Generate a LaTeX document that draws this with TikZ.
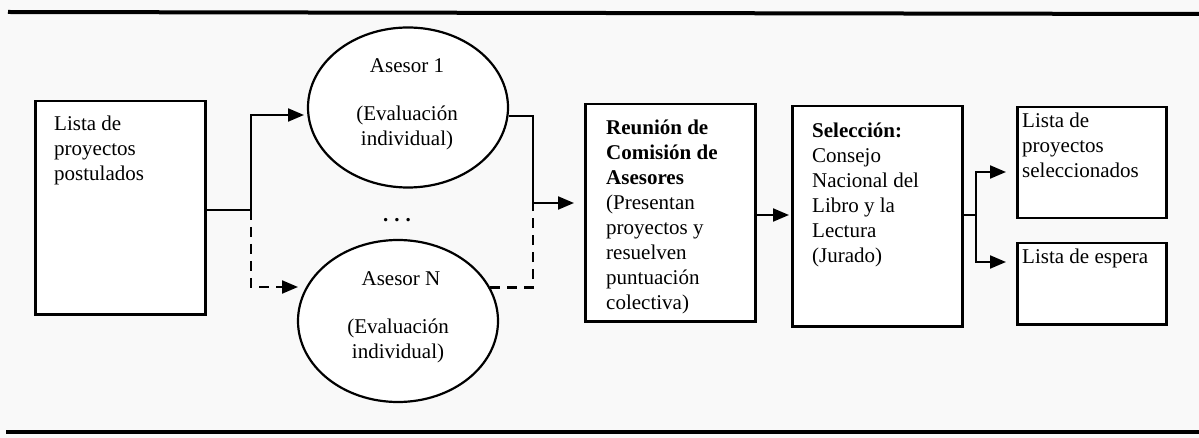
\documentclass[tikz,border=0pt]{standalone}
\usepackage{fontspec}
\setmainfont{Liberation Serif}
\usetikzlibrary{arrows.meta,shapes.geometric}
\newcommand{\fl}{\rule{0pt}{16pt}}
\begin{document}
\begin{tikzpicture}[x=1pt,y=-1pt,
  box/.style={draw, line width=2.5pt, fill=white, inner sep=0pt, anchor=north west},
  ell/.style={draw, ellipse, line width=2.2pt, fill=white, inner sep=0pt},
  txt/.style={inner sep=0pt, font=\fontsize{21}{25}\selectfont},
  lbl/.style={txt, anchor=north west, align=left},
  clbl/.style={txt, anchor=north, align=center},
  conn/.style={line width=2.2pt},
  arr/.style={conn, -{Triangle[length=16pt,width=13pt]}},
  dsh/.style={dash pattern=on 10pt off 7pt}]
% background and frame rules
\fill[gray!5] (0,0) rectangle (1199,438);
\useasboundingbox (0,0) rectangle (1199,438);
\draw[line width=4pt] (8,12) -- (1199,14);
\draw[line width=3.5pt] (6,432) -- (1199,432);

% boxes (text nodes: first baseline = y + 16)
\node[box, minimum width=170pt, minimum height=213pt] (lista) at (34,100) {};
\node[lbl] (listat) at (54,114) {\fl Lista de\\proyectos\\postulados};

\node[ell, minimum width=200pt, minimum height=160pt] (e1) at (408,107.5) {};
\node[clbl] (e1a) at (407,56) {\fl Asesor 1};
\node[clbl] (e1b) at (407,104) {\fl(Evaluación\\individual)};

\node[txt, anchor=base] (dots) at (397,222) {\textbf{.\hspace{6pt}.\hspace{6pt}.}};

\node[ell, minimum width=200pt, minimum height=162pt] (eN) at (398,321) {};
\node[clbl] (eNa) at (401,269) {\fl Asesor N};
\node[clbl] (eNb) at (398,317) {\fl(Evaluación\\individual)};

\node[box, minimum width=170pt, minimum height=217pt] (reu) at (584,103) {};
\node[lbl] (reut) at (606,118) {\fl\textbf{Reunión de}\\\textbf{Comisión de}\\\textbf{Asesores}\\(Presentan\\proyectos y\\resuelven\\puntuación\\colectiva)};

\node[box, minimum width=170pt, minimum height=220pt] (sel) at (791,105) {};
\node[lbl] (selt) at (812,121) {\fl\textbf{Selección:}\\Consejo\\Nacional del\\Libro y la\\Lectura\\(Jurado)};

\node[box, minimum width=149pt, minimum height=111pt] (lsel) at (1016,106) {};
\node[lbl] (lselt) at (1022,111) {\fl Lista de\\proyectos\\seleccionados};

\node[box, minimum width=149pt, minimum height=81pt] (lesp) at (1016,242) {};
\node[lbl] (lespt) at (1022,247) {\fl Lista de espera};

% connectors, left fork
\coordinate (j1) at (251,210);
\coordinate (t1) at (304,115);
\coordinate (tN) at (298,287);
\draw[conn] (lista.east |- j1) -- (j1);
\draw[arr] (j1) |- (t1);
\draw[arr, dsh] (j1) |- (tN);

% connectors, right join
\coordinate (j2) at (533,203);
\coordinate (t2) at (574,203);
\draw[conn] (e1.-5.5) -| (j2);
\draw[conn, dsh] (eN.20) -| (j2);
\draw[arr] (j2) -- (t2);

% Reunion -> Seleccion
\draw[arr] (reu.east |- 0,215) -- ([xshift=-2pt]sel.west |- 0,215);

% Seleccion -> results
\coordinate (j3) at (976,215);
\coordinate (t3) at (1006,172);
\coordinate (t4) at (1006,262);
\draw[conn] (sel.east |- j3) -- (j3);
\draw[arr] (j3) |- (t3);
\draw[arr] (j3) |- (t4);
\end{tikzpicture}
\end{document}
